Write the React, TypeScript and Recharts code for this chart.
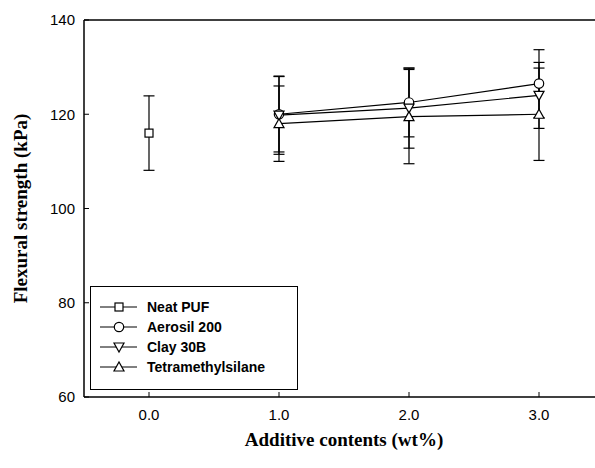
import React from "react";
import {
    LineChart,
    Line,
    XAxis,
    YAxis,
    ErrorBar,
    Legend,
    ReferenceLine,
} from "recharts";

// values
const neatX = [0];
const neatY = [116];
const neatErr = [7.9];

const addX = [1, 2, 3];
const aerosilY = [120, 122.5, 126.5];
const aerosilErr = [8, 7.3, 7.2];
const clayY = [119.8, 121.3, 124];
const clayErr = [8.3, 8.5, 7];
const tmsY = [118, 119.5, 120];
const tmsErr = [8, 10, 9.8];

const xTicks = [0, 1, 2, 3];
const yTicks = [60, 80, 100, 120, 140];

const toRows = (xs: number[], ys: number[], errs: number[]) =>
    xs.map((x, i) => ({ x, y: ys[i], err: errs[i] }));

type Shape = "square" | "circle" | "down" | "up";

const Marker = ({ shape, cx, cy }: { shape: Shape; cx: number; cy: number }) => {
    const st = { fill: "#fff", stroke: "#000", strokeWidth: 1.2 };
    if (shape === "square")
        return <rect x={cx - 4} y={cy - 4} width={8} height={8} {...st} />;
    if (shape === "circle") return <circle cx={cx} cy={cy} r={4.7} {...st} />;
    if (shape === "down")
        return (
            <polygon
                points={`${cx - 5},${cy - 4} ${cx + 5},${cy - 4} ${cx},${cy + 5}`}
                {...st}
            />
        );
    return (
        <polygon
            points={`${cx - 5},${cy + 4} ${cx + 5},${cy + 4} ${cx},${cy - 5}`}
            {...st}
        />
    );
};

const series = [
    { name: "Neat PUF", shape: "square" as Shape, data: toRows(neatX, neatY, neatErr) },
    { name: "Aerosil 200", shape: "circle" as Shape, data: toRows(addX, aerosilY, aerosilErr) },
    { name: "Clay 30B", shape: "down" as Shape, data: toRows(addX, clayY, clayErr) },
    { name: "Tetramethylsilane", shape: "up" as Shape, data: toRows(addX, tmsY, tmsErr) },
];

const makeDot = (shape: Shape) => (props: any) => (
    <Marker key={`${shape}-${props.index}`} shape={shape} cx={props.cx} cy={props.cy} />
);

const renderLegend = () => (
    <div
        style={{
            border: "1px solid #000",
            background: "#fff",
            width: 208,
            height: 104,
            boxSizing: "border-box",
            paddingTop: 10,
        }}
    >
        {series.map((s) => (
            <div
                key={s.name}
                style={{ display: "flex", alignItems: "center", height: 20 }}
            >
                <svg width={56} height={20} style={{ display: "block" }}>
                    <line x1={9} y1={10} x2={46} y2={10} stroke="#000" strokeWidth={1} />
                    <Marker shape={s.shape} cx={28} cy={10} />
                </svg>
                <span
                    style={{
                        fontFamily: "'Liberation Sans', Arial, sans-serif",
                        fontWeight: "bold",
                        fontSize: 14,
                        color: "#000",
                    }}
                >
                    {s.name}
                </span>
            </div>
        ))}
    </div>
);

const YLabel = (props: any) => {
    const vb = props.viewBox || {};
    const cy = vb.y + vb.height / 2;
    return (
        <text
            x={20}
            y={cy}
            transform={`rotate(-90, 20, ${cy})`}
            textAnchor="middle"
            dominantBaseline="central"
            style={{
                fontFamily: "'Liberation Serif', 'Times New Roman', serif",
                fontWeight: "bold",
                fontSize: 19,
                fill: "#000",
            }}
        >
            Flexural strength (kPa)
        </text>
    );
};

const tickStyle = {
    fontFamily: "'Liberation Sans', Arial, sans-serif",
    fontSize: 15,
    fill: "#000",
};

export default function App() {
    return (
        <div
            style={{
                position: "absolute",
                left: 0,
                top: 0,
                width: 595,
                height: 468,
                overflow: "hidden",
                background: "#fff",
            }}
        >
            <LineChart
                width={620}
                height={468}
                margin={{ top: 20, right: 16, bottom: 0, left: 0 }}
            >
                <XAxis
                    dataKey="x"
                    type="number"
                    domain={[-0.5, 3.5]}
                    ticks={xTicks}
                    tickFormatter={(v: number) => v.toFixed(1)}
                    allowDuplicatedCategory={false}
                    height={71}
                    tick={tickStyle}
                    tickSize={-5}
                    tickMargin={17}
                    axisLine={{ stroke: "#000", strokeWidth: 1.5 }}
                    tickLine={{ stroke: "#000" }}
                    label={{
                        value: "Additive contents (wt%)",
                        position: "insideBottom",
                        offset: 22,
                        style: {
                            fontFamily: "'Liberation Serif', 'Times New Roman', serif",
                            fontWeight: "bold",
                            fontSize: 19,
                            fill: "#000",
                        },
                    }}
                />
                <YAxis
                    type="number"
                    domain={[60, 140]}
                    ticks={yTicks}
                    width={84}
                    tick={tickStyle}
                    tickSize={-5}
                    tickMargin={14}
                    axisLine={{ stroke: "#000", strokeWidth: 1.5 }}
                    tickLine={{ stroke: "#000" }}
                    label={{ content: YLabel }}
                />
                <ReferenceLine y={140} stroke="#000" strokeWidth={1.5} />
                {series.map((s) => (
                    <Line
                        key={s.name}
                        name={s.name}
                        data={s.data}
                        dataKey="y"
                        stroke="#000"
                        strokeWidth={1.2}
                        dot={makeDot(s.shape)}
                        activeDot={false}
                        isAnimationActive={false}
                    >
                        <ErrorBar
                            dataKey="err"
                            direction="y"
                            width={5.5}
                            stroke="#000"
                            strokeWidth={1.2}
                            isAnimationActive={false}
                        />
                    </Line>
                ))}
                <Legend
                    layout="vertical"
                    align="center"
                    verticalAlign="middle"
                    content={renderLegend}
                    wrapperStyle={{ left: 90, top: 286, width: 208, height: 104 }}
                />
            </LineChart>
        </div>
    );
}
